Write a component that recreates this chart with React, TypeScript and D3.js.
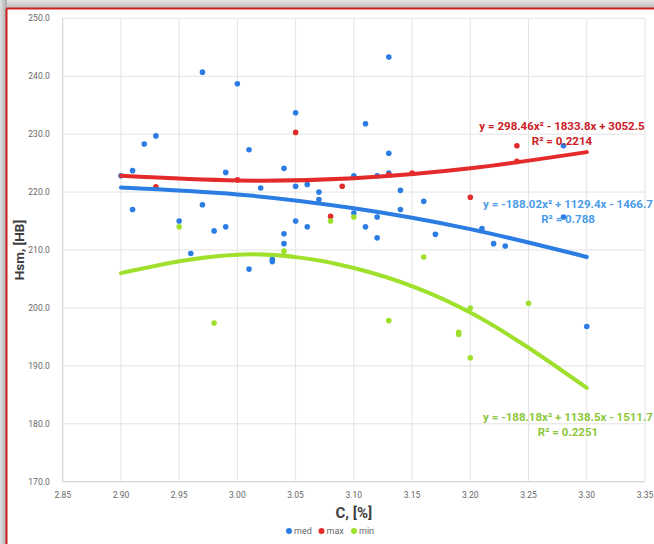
import React from 'react';
import * as d3 from 'd3';

const width = 654;
const height = 544;

// plot area in page pixels
const plot = { left: 62.7, right: 645, top: 18.3, bottom: 481.7 };

const xTicks = [2.85, 2.9, 2.95, 3.0, 3.05, 3.1, 3.15, 3.2, 3.25, 3.3, 3.35];
const yTicks = [170, 180, 190, 200, 210, 220, 230, 240, 250];

// med series
const medX = [
  2.9, 2.91, 2.91, 2.92, 2.93, 2.95, 2.96, 2.97, 2.97, 2.98, 2.99, 2.99, 3.0, 3.01, 3.01, 3.02,
  3.03, 3.03, 3.04, 3.04, 3.04, 3.05, 3.05, 3.05, 3.06, 3.06, 3.07, 3.07, 3.1, 3.1, 3.11, 3.11,
  3.12, 3.12, 3.12, 3.13, 3.13, 3.13, 3.14, 3.14, 3.16, 3.17, 3.21, 3.22, 3.23, 3.28, 3.28, 3.3,
];
const medY = [
  222.8, 223.7, 217.0, 228.3, 229.7, 215.0, 209.4, 240.7, 217.8, 213.3, 223.4, 214.0, 238.7, 227.3, 206.7, 220.7,
  208.4, 208.0, 224.1, 212.8, 211.1, 233.7, 221.0, 215.0, 221.3, 214.0, 220.0, 218.7, 222.8, 216.4, 231.8, 214.0,
  222.8, 215.7, 212.1, 243.3, 226.7, 223.3, 220.3, 217.0, 218.4, 212.7, 213.7, 211.1, 210.7, 228.0, 215.7, 196.8,
];

// max series
const maxX = [2.93, 3.0, 3.05, 3.08, 3.09, 3.13, 3.15, 3.2, 3.24, 3.24];
const maxY = [220.9, 222.1, 230.3, 215.8, 221.0, 223.0, 223.3, 219.1, 228.0, 225.3];

// min series
const minX = [2.95, 2.98, 3.04, 3.08, 3.1, 3.13, 3.16, 3.19, 3.19, 3.2, 3.2, 3.25];
const minY = [214.0, 197.4, 209.8, 215.0, 215.7, 197.8, 208.8, 195.8, 195.4, 200.0, 191.4, 200.8];

// polynomial trendlines, values
const trendX = [2.9, 3.0, 3.1, 3.2, 3.3];
const trendMed = [220.8, 219.6, 217.2, 213.6, 208.8];
const trendMax = [222.8, 222.0, 222.4, 224.1, 226.9];
const trendMin = [206.0, 209.2, 206.9, 199.2, 186.2];

const series = [
  { name: 'med', xs: medX, ys: medY, trend: trendMed, color: '#2b7de3', label: '#4a9be9',
    eq: 'y = -188.02x² + 1129.4x - 1466.7', r2: 'R² = 0.788', lx: 568, ly: 208 },
  { name: 'max', xs: maxX, ys: maxY, trend: trendMax, color: '#e32b2b', label: '#cc2027',
    eq: 'y = 298.46x² - 1833.8x + 3052.5', r2: 'R² = 0.2214', lx: 562, ly: 130 },
  { name: 'min', xs: minX, ys: minY, trend: trendMin, color: '#9fe02c', label: '#8cc63a',
    eq: 'y = -188.18x² + 1138.5x - 1511.7', r2: 'R² = 0.2251', lx: 568, ly: 421 },
];

const font = 'Roboto, "Noto Sans", sans-serif';

export default function App() {
  const x = d3.scaleLinear().domain([2.85, 3.35]).range([plot.left, plot.right]);
  const y = d3.scaleLinear().domain([170, 250]).range([plot.bottom, plot.top]);
  const line = d3
    .line<number>()
    .x((_, i) => x(trendX[i]))
    .y((d) => y(d))
    .curve(d3.curveNatural);

  return (
    <svg
      width={width}
      height={height}
      style={{ position: 'absolute', left: 0, top: 0, fontFamily: font }}
    >
      <defs>
        <linearGradient id="shadeTop" x1="0" y1="0" x2="0" y2="1">
          <stop offset="0" stopColor="#e4e4e4" />
          <stop offset="1" stopColor="#b8b8b8" />
        </linearGradient>
        <linearGradient id="shadeLeft" x1="0" y1="0" x2="1" y2="0">
          <stop offset="0" stopColor="#e0e0e0" />
          <stop offset="1" stopColor="#aaaaaa" />
        </linearGradient>
      </defs>
      <rect x={0} y={0} width={width} height={9} fill="url(#shadeTop)" />
      <rect x={0} y={0} width={7} height={height} fill="url(#shadeLeft)" />
      <rect x={7} y={9} width={width} height={height} fill="#ffffff" />
      <line x1={6.5} y1={8.5} x2={width} y2={8.5} stroke="#cc1f1f" strokeWidth={2} />
      <line x1={6.5} y1={8.5} x2={6.5} y2={height} stroke="#cc1f1f" strokeWidth={2} />

      {/* grid */}
      <g>
        {xTicks.map((t) => (
          <line key={'gx' + t} x1={x(t)} x2={x(t)} y1={plot.top} y2={plot.bottom} stroke="#e3e3e3" strokeWidth={1} />
        ))}
        {yTicks.map((t) => (
          <line key={'gy' + t} x1={plot.left} x2={plot.right} y1={y(t)} y2={y(t)} stroke="#e3e3e3" strokeWidth={1} />
        ))}
        <line x1={plot.left} x2={plot.right} y1={plot.bottom} y2={plot.bottom} stroke="#d4d4d4" />
        <line x1={plot.left} x2={plot.left} y1={plot.top} y2={plot.bottom} stroke="#d4d4d4" />
      </g>

      {/* tick labels */}
      <g fontSize={8.5} fill="#666666">
        {yTicks.map((t) => (
          <text key={'ty' + t} x={plot.left - 13} y={y(t)} dy="0.35em" textAnchor="end">
            {t.toFixed(1)}
          </text>
        ))}
        {xTicks.map((t) => (
          <text key={'tx' + t} x={x(t)} y={plot.bottom + 13} dy="0.35em" textAnchor="middle">
            {t.toFixed(2)}
          </text>
        ))}
      </g>

      {/* points */}
      {series.map((s) => (
        <g key={'p' + s.name} fill={s.color}>
          {s.xs.map((v, i) => (
            <circle key={i} cx={x(v)} cy={y(s.ys[i])} r={2.8} />
          ))}
        </g>
      ))}

      {/* trendlines */}
      {series.map((s) => (
        <path key={'t' + s.name} d={line(s.trend) ?? ''} fill="none" stroke={s.color} strokeWidth={4} strokeLinecap="round" />
      ))}

      {/* equations */}
      {series.map((s) => (
        <g key={'e' + s.name} fill={s.label} fontSize={11.5} fontWeight="bold" textAnchor="middle">
          <text x={s.lx} y={s.ly}>{s.eq}</text>
          <text x={s.lx} y={s.ly + 15}>{s.r2}</text>
        </g>
      ))}

      {/* axis titles */}
      <text
        transform={`translate(24, ${(plot.top + plot.bottom) / 2}) rotate(-90)`}
        textAnchor="middle"
        fontSize={13.5}
        fontWeight="bold"
        fill="#404040"
      >
        Hsm, [HB]
      </text>
      <text x={(plot.left + plot.right) / 2} y={518} textAnchor="middle" fontSize={15} fontWeight="bold" fill="#404040">
        C, [%]
      </text>

      {/* legend */}
      <g fontSize={9} fill="#666666">
        {series.map((s, i) => (
          <g key={'l' + s.name} transform={`translate(${289 + i * 32.5}, 531)`}>
            <circle cx={0} cy={0} r={3} fill={s.color} />
            <text x={5} y={0} dy="0.35em">{s.name}</text>
          </g>
        ))}
      </g>
    </svg>
  );
}
